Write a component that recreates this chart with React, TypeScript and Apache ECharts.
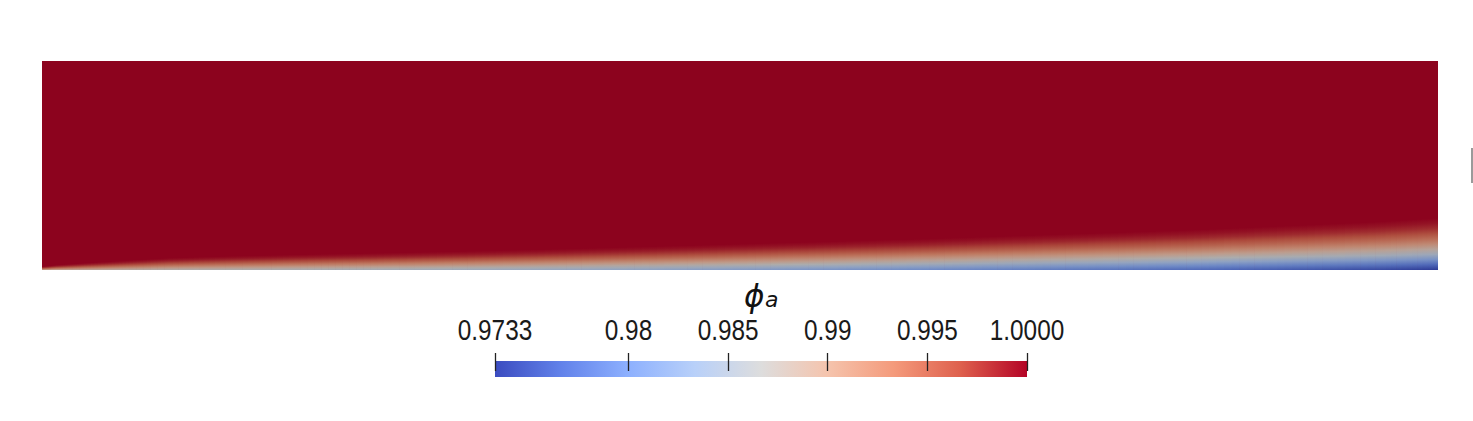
import React, { useEffect, useRef } from "react";
import * as echarts from "echarts";

// ---- colour range (phi_a) ----
const VMIN = 0.9733;
const VMAX = 1.0;
const tickValues = [0.9733, 0.98, 0.985, 0.99, 0.995, 1.0];
const tickLabels = ["0.9733", "0.98", "0.985", "0.99", "0.995", "1.0000"];

// ---- plate domain (x along plate, y normal to wall), length-normalised ----
const plateLength = 1.0;
const plateHeight = 0.1497;

// stations along the wall (x / L)
const stationX = [0, 0.01, 0.03, 0.06, 0.09, 0.135, 0.185, 0.245, 0.31, 0.37, 0.435, 0.5, 0.565, 0.63, 0.695, 0.76, 0.825, 0.89, 0.955, 1.0];
// boundary-layer thickness at each station (y / L)
const layerThickness = [0.0025, 0.0036, 0.005, 0.0068, 0.0086, 0.01, 0.0111, 0.0122, 0.0136, 0.015, 0.0168, 0.0186, 0.0204, 0.0222, 0.0244, 0.0265, 0.0287, 0.0315, 0.0344, 0.0372];
// phi_a at the wall at each station
const wallValue = [0.989, 0.9885, 0.988, 0.9875, 0.987, 0.9865, 0.986, 0.9853, 0.9845, 0.9838, 0.983, 0.982, 0.981, 0.98, 0.979, 0.978, 0.977, 0.9758, 0.9745, 0.9733];
// shared normalised profile: height / thickness vs. deficit fraction
const profileEta = [0, 0.1, 0.2, 0.3, 0.4, 0.5, 0.6, 0.7, 0.8, 0.9, 1.0];
const profileDeficit = [1, 0.87, 0.72, 0.57, 0.44, 0.32, 0.22, 0.14, 0.075, 0.03, 0];

// Cool to Warm colour map
const cmapPos = [0, 0.125, 0.25, 0.375, 0.5, 0.625, 0.75, 0.875, 1.0];
const cmapRGB: number[][] = [
  [59, 76, 192],
  [98, 130, 234],
  [141, 176, 254],
  [184, 208, 249],
  [221, 221, 221],
  [245, 196, 173],
  [244, 154, 123],
  [222, 96, 77],
  [180, 4, 38],
];

function mapColor(v: number, shade: number): string {
  let t = (v - VMIN) / (VMAX - VMIN);
  t = Math.max(0, Math.min(1, t));
  let i = 0;
  while (i < cmapPos.length - 2 && t > cmapPos[i + 1]) i++;
  const f = (t - cmapPos[i]) / (cmapPos[i + 1] - cmapPos[i]);
  const a = cmapRGB[i];
  const b = cmapRGB[i + 1];
  const c = [0, 1, 2].map((k) => Math.round((a[k] + (b[k] - a[k]) * f) * shade));
  return `rgb(${c[0]},${c[1]},${c[2]})`;
}

const FIELD_SHADE = 0.78;

export default function App() {
  const ref = useRef<HTMLDivElement>(null);

  useEffect(() => {
    if (!ref.current) return;
    const chart = echarts.init(ref.current, undefined, { renderer: "svg" });

    const segments: number[][] = [];
    for (let i = 0; i < stationX.length - 1; i++) {
      segments.push([
        stationX[i],
        stationX[i + 1],
        layerThickness[i],
        layerThickness[i + 1],
        wallValue[i],
        wallValue[i + 1],
      ]);
    }

    const fieldRender = (params: any, api: any) => {
      const x0 = api.value(0);
      const x1 = api.value(1);
      const d0 = api.value(2);
      const d1 = api.value(3);
      const w0 = api.value(4);
      const w1 = api.value(5);
      const K = 12;
      const children: any[] = [];
      for (let k = 0; k < K; k++) {
        const ta = k / K;
        const tb = (k + 1) / K;
        const tm = (k + 0.5) / K;
        const xa = x0 + (x1 - x0) * ta;
        const xb = x0 + (x1 - x0) * tb;
        const d = d0 + (d1 - d0) * tm;
        const w = w0 + (w1 - w0) * tm;
        const pA = api.coord([xa, 0]);
        const pB = api.coord([xb, d]);
        const stops = profileEta.map((e, j) => ({
          offset: e,
          color: mapColor(1 - (1 - w) * profileDeficit[j], FIELD_SHADE),
        }));
        children.push({
          type: "rect",
          shape: { x: pA[0], y: pB[1], width: pB[0] - pA[0] + 0.7, height: pA[1] - pB[1] },
          style: { fill: new echarts.graphic.LinearGradient(0, 1, 0, 0, stops), stroke: null },
        });
      }
      return { type: "group", children };
    };

    const barRender = (params: any, api: any) => {
      const p0 = api.coord([api.value(0), 0]);
      const p1 = api.coord([api.value(1), 1]);
      const stops = cmapPos.map((p) => ({ offset: p, color: mapColor(VMIN + p * (VMAX - VMIN), 1) }));
      return {
        type: "rect",
        shape: { x: p0[0], y: p1[1], width: p1[0] - p0[0], height: p0[1] - p1[1] },
        style: { fill: new echarts.graphic.LinearGradient(0, 0, 1, 0, stops) },
      };
    };

    chart.setOption({
      animation: false,
      backgroundColor: "#ffffff",
      grid: [
        {
          left: 42,
          top: 61,
          width: 1396,
          height: 209,
          show: true,
          borderWidth: 0,
          backgroundColor: mapColor(1.0, FIELD_SHADE),
        },
        { left: 495, top: 361, width: 532, height: 16 },
      ],
      xAxis: [
        { gridIndex: 0, type: "value", min: 0, max: plateLength, show: false },
        {
          gridIndex: 1,
          type: "value",
          min: VMIN,
          max: VMAX,
          position: "top",
          offset: -6,
          z: 10,
          axisLine: { show: false },
          splitLine: { show: false },
          axisTick: {
            show: true,
            customValues: tickValues,
            length: 18,
            lineStyle: { color: "#222222", width: 1.3 },
          },
          axisLabel: { show: false },
        },
      ],
      yAxis: [
        { gridIndex: 0, type: "value", min: 0, max: plateHeight, show: false },
        { gridIndex: 1, type: "value", min: 0, max: 1, show: false },
      ],
      series: [
        {
          type: "custom",
          xAxisIndex: 0,
          yAxisIndex: 0,
          clip: true,
          renderItem: fieldRender,
          data: segments,
          encode: { x: [0, 1], y: [2, 3] },
          silent: true,
        },
        {
          type: "custom",
          xAxisIndex: 1,
          yAxisIndex: 1,
          renderItem: barRender,
          data: [[VMIN, VMAX]],
          encode: { x: [0, 1] },
          silent: true,
        },
      ],
    });

    // colour-bar tick labels, placed through the colour-bar axis scale (narrow face)
    const labelGraphics = tickValues.map((v, i) => ({
      type: "text",
      x: chart.convertToPixel({ xAxisIndex: 1 }, v) as number,
      y: 330,
      scaleX: 0.84,
      style: {
        text: tickLabels[i],
        fill: "#1a1a1a",
        font: "29px 'Liberation Sans', Arial, sans-serif",
        textAlign: "center",
        textVerticalAlign: "middle",
      },
    }));

    chart.setOption({
      graphic: [
        {
          type: "text",
          x: 744,
          y: 280,
          style: {
            text: "ϕ",
            fill: "#111111",
            font: "italic 31px 'DejaVu Sans', sans-serif",
            textAlign: "left",
            textVerticalAlign: "top",
          },
        },
        {
          type: "text",
          x: 765,
          y: 288,
          style: {
            text: "a",
            fill: "#111111",
            font: "italic 22px 'DejaVu Sans', sans-serif",
            textAlign: "left",
            textVerticalAlign: "top",
          },
        },
        {
          type: "line",
          shape: { x1: 1472, y1: 148, x2: 1472, y2: 183 },
          style: { stroke: "#9a9a9a", lineWidth: 2 },
        },
        ...labelGraphics,
      ],
    });

    return () => chart.dispose();
  }, []);

  return <div ref={ref} style={{ position: "fixed", left: 0, top: 0, width: 1473, height: 421 }} />;
}
